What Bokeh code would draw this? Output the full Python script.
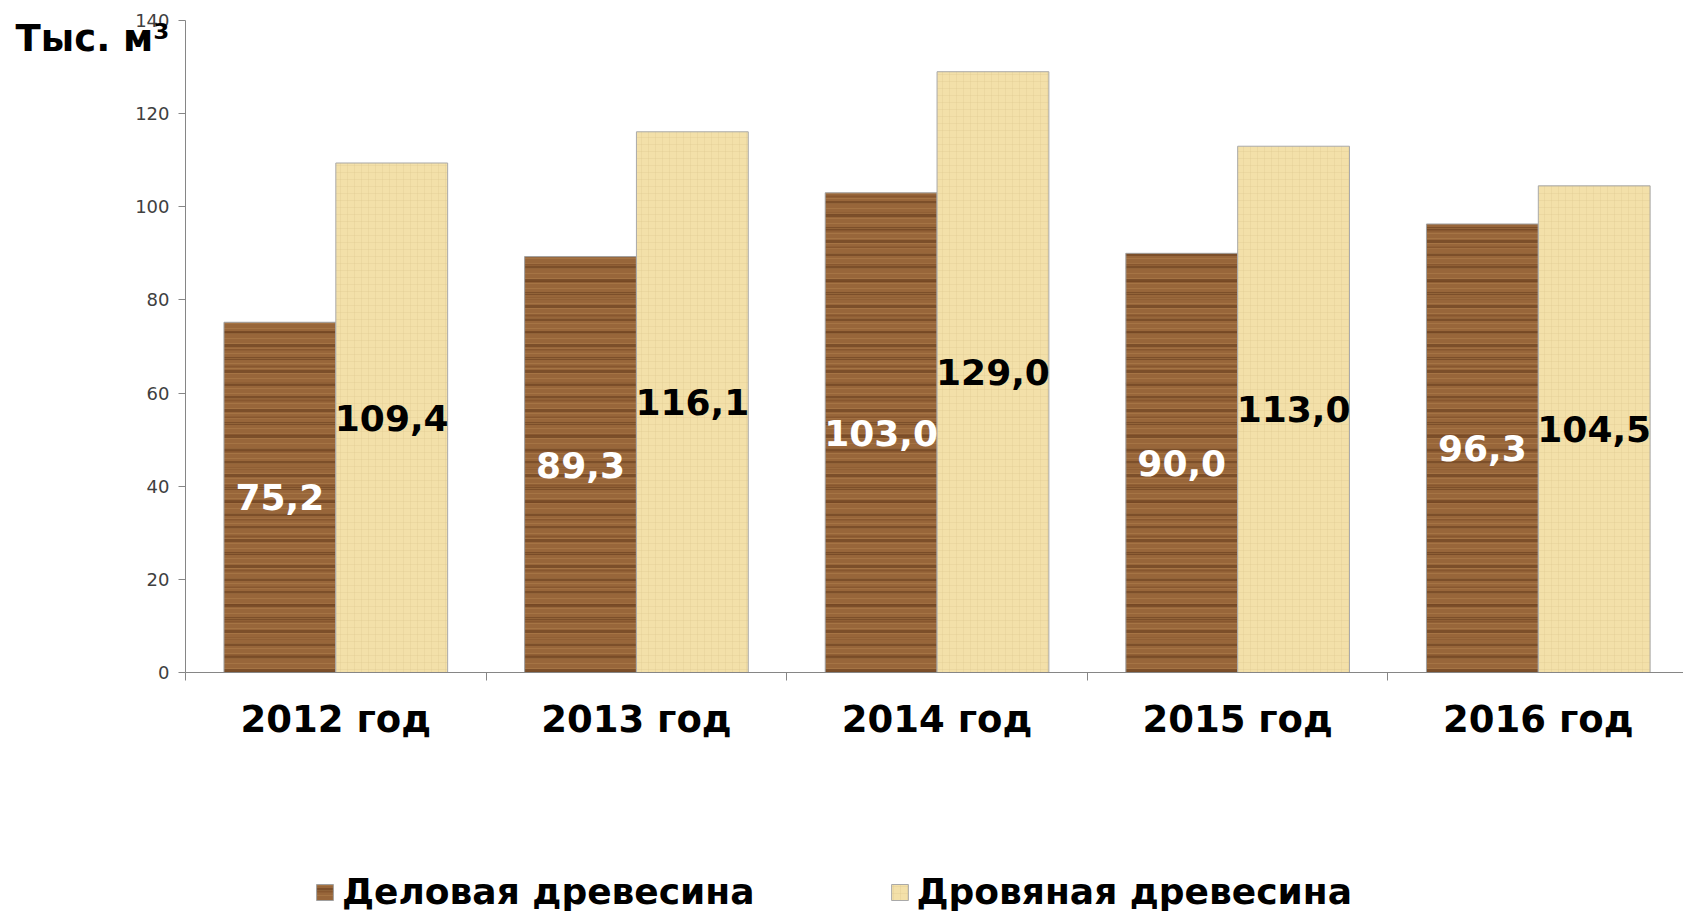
from bokeh.plotting import figure
from bokeh.models import (ColumnDataSource, Range1d, FixedTicker, Legend,
                          LegendItem, LinearAxis, Label)
from bokeh.core.properties import value
from bokeh.embed import file_html
from bokeh.resources import INLINE

# ---- data ----
categories = ["2012 год", "2013 год", "2014 год", "2015 год", "2016 год"]
delovaya = [75.2, 89.3, 103.0, 90.0, 96.3]
drovyanaya = [109.4, 116.1, 129.0, 113.0, 104.5]
series_names = ["Деловая древесина", "Дровяная древесина"]
y_ticks = [0, 20, 40, 60, 80, 100, 120, 140]
unit_title = "Тыс. м³"

FONT = "DejaVu Sans"
BAR_W = 0.372
X_LO, X_HI = -0.6154, 4.983     # plot area covers the whole canvas
Y_LO, Y_HI = -51.75, 144.29
Y_MAX = 140

centers = [i + 0.5 for i in range(len(categories))]
fmt = lambda v: f"{v:.1f}".replace(".", ",")

src_d = ColumnDataSource(dict(
    x=[c - BAR_W / 2 for c in centers], top=delovaya,
    ymid=[v / 2 for v in delovaya], lab=[fmt(v) for v in delovaya]))
src_l = ColumnDataSource(dict(
    x=[c + BAR_W / 2 for c in centers], top=drovyanaya,
    ymid=[v / 2 for v in drovyanaya], lab=[fmt(v) for v in drovyanaya]))

p = figure(width=1683, height=913, output_backend="svg", toolbar_location=None,
           x_range=Range1d(X_LO, X_HI), y_range=Range1d(Y_LO, Y_HI),
           min_border=0, x_axis_location=None, y_axis_location=None)
p.outline_line_color = None
p.xgrid.visible = False
p.ygrid.visible = False
p.background_fill_color = "white"

# ---- dark wood bars (layered stripes imitate the grain) ----
d0 = p.vbar(x="x", top="top", width=BAR_W, bottom=0, source=src_d,
            fill_color="#98663a", line_color=None)
d1 = p.vbar(x="x", top="top", width=BAR_W, bottom=0, source=src_d,
            fill_alpha=0, line_color=None, hatch_pattern="horizontal_line",
            hatch_scale=13, hatch_weight=3, hatch_color="#5a3216", hatch_alpha=0.45)
d3 = p.vbar(x="x", top="top", width=BAR_W, bottom=0, source=src_d,
            fill_alpha=0, line_color=None, hatch_pattern="horizontal_line",
            hatch_scale=17, hatch_weight=2, hatch_color="#6b3d1a", hatch_alpha=0.35)
d2 = p.vbar(x="x", top="top", width=BAR_W, bottom=0, source=src_d,
            fill_alpha=0, line_color="#a0a0a0", line_width=1,
            hatch_pattern="horizontal_line", hatch_scale=5, hatch_weight=1,
            hatch_color="#c4965e", hatch_alpha=0.3)

# ---- light paper bars ----
l0 = p.vbar(x="x", top="top", width=BAR_W, bottom=0, source=src_l,
            fill_color="#f3e0a9", line_color=None)
l1 = p.vbar(x="x", top="top", width=BAR_W, bottom=0, source=src_l,
            fill_alpha=0, line_color="#a9a9a9", line_width=1,
            hatch_pattern="cross", hatch_scale=7, hatch_weight=0.7,
            hatch_color="#d6ba80", hatch_alpha=0.3)

# ---- value labels ----
p.text(x="x", y="ymid", text="lab", source=src_d, text_color="white",
       text_font=value(FONT), text_font_style="bold", text_font_size="36px",
       text_align="center", text_baseline="middle")
p.text(x="x", y="ymid", text="lab", source=src_l, text_color="black",
       text_font=value(FONT), text_font_style="bold", text_font_size="36px",
       text_align="center", text_baseline="middle")

# ---- y axis ----
yax = LinearAxis(ticker=FixedTicker(ticks=y_ticks), fixed_location=0,
                 bounds=(0, Y_MAX))
yax.axis_line_color = "#868686"
yax.major_tick_line_color = "#868686"
yax.major_tick_out = 7
yax.major_tick_in = 0
yax.minor_tick_line_color = None
yax.major_label_text_font = FONT
yax.major_label_text_font_size = "18px"
yax.major_label_text_color = "#404040"
yax.major_label_standoff = 9
p.add_layout(yax, "left")

# ---- x axis ----
xax = LinearAxis(ticker=FixedTicker(ticks=centers,
                                    minor_ticks=list(range(len(categories) + 1))),
                 fixed_location=0, bounds=(0, X_HI))
xax.major_label_overrides = {c: lab for c, lab in zip(centers, categories)}
xax.axis_line_color = "#868686"
xax.major_tick_line_color = None
xax.major_tick_out = 0
xax.major_tick_in = 0
xax.minor_tick_line_color = "#868686"
xax.minor_tick_out = 8
xax.minor_tick_in = 0
xax.major_label_text_font = FONT
xax.major_label_text_font_style = "bold"
xax.major_label_text_font_size = "37px"
xax.major_label_text_color = "black"
xax.major_label_standoff = 18
p.add_layout(xax, "below")

# ---- unit title ----
p.add_layout(Label(x=-0.5655, y=136.1, text=unit_title, text_font=FONT,
                   text_font_style="bold", text_font_size="37px",
                   text_color="black", text_baseline="alphabetic"))

# ---- legend ----
legend = Legend(items=[LegendItem(label=series_names[0], renderers=[d0, d1, d3, d2]),
                       LegendItem(label=series_names[1], renderers=[l0, l1])],
                orientation="horizontal", location=(314, 1),
                glyph_width=21, glyph_height=20, label_standoff=7, spacing=134,
                padding=0, margin=0, border_line_color=None,
                background_fill_alpha=0,
                label_text_font=FONT, label_text_font_style="bold",
                label_text_font_size="36px", label_text_color="black")
p.add_layout(legend)

open("out.html", "w").write(file_html(p, INLINE))
